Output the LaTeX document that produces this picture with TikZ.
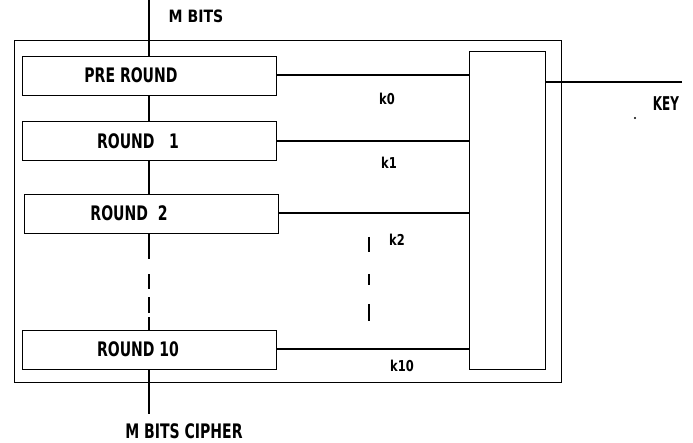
\documentclass[tikz,border=0pt]{standalone}
\usepackage{fontspec}
\setmainfont{DejaVu Sans Condensed}
\begin{document}
\begin{tikzpicture}[x=1pt,y=-1pt]
  \tikzset{
      every node/.append style = {
          font = \bfseries\addfontfeature{FakeStretch=0.78}\fontsize{20}{22}\selectfont,
          inner sep = 0pt
      },
      conn/.style = {
          line width = 2pt
      },
      roundbox/.style = {
          draw, line width = 0.9pt,
          minimum width = 254pt,
          minimum height = 39pt
      },
      keylabel/.style = {
          font = \bfseries\addfontfeature{FakeStretch=0.85}\fontsize{15}{17}\selectfont
      }
  }
  \useasboundingbox (0,0) rectangle (693,443);
  % frame
  \draw[line width = 0.9pt] (14,40) rectangle (561,382);
  % rounds
  \node[roundbox, label = {[xshift = -18pt]center:PRE ROUND}] (pre) at (149,75.5) {};
  \node[roundbox, label = {[xshift = -11pt]center:ROUND \ \ 1}] (r1) at (149,141) {};
  \node[roundbox, label = {[xshift = -22pt]center:ROUND \ 2}] (r2) at (151,213.5) {};
  \node[roundbox, label = {[xshift = -11pt]center:ROUND 10}] (r10) at (149,349.5) {};
  % key schedule
  \node[draw, line width = 0.9pt, minimum width = 76pt, minimum height = 318pt] (keygen) at (507,210) {};
  \coordinate (mbitsin) at (149,0);
  \coordinate (cipherout) at (149,414);
  \coordinate (keyin) at (682,82);
  \coordinate (dotstart) at (369,237);
  \coordinate (dotend) at (369,321);
  \node[font = \bfseries\addfontfeature{FakeStretch=0.92}\fontsize{17}{19}\selectfont] (mbits) at (196,16) {M BITS};
  \node (cipher) at (184,431) {M BITS CIPHER};
  \node[font = \bfseries\addfontfeature{FakeStretch=0.7}\fontsize{19}{21}\selectfont] (key) at (666,104) {KEY};
  \node[keylabel] (k0) at (387,99) {k0};
  \node[keylabel] (k1) at (389,163) {k1};
  \node[keylabel] (k2) at (397,240) {k2};
  \node[keylabel] (k10) at (402,366) {k10};
  \fill (635,118) circle (1.2pt);
  % data path
  \draw[conn] (mbitsin) -- (pre.north);
  \draw[conn] (pre.south) -- (r1.north);
  \draw[conn] (r1.south) -- (r1.south |- r2.north);
  \draw[conn, dash pattern = on 26pt off 15pt on 15pt off 8pt on 16pt off 4pt on 13pt] (r2.south -| r10.north) -- (r10.north);
  \draw[conn] (r10.south) -- (cipherout);
  % subkeys
  \draw[conn] (pre.east) -- (pre.east -| keygen.west);
  \draw[conn] (r1.east) -- (r1.east -| keygen.west);
  \draw[conn] (r2.east) -- (r2.east -| keygen.west);
  \draw[conn] (r10.east) -- (r10.east -| keygen.west);
  \draw[conn, dash pattern = on 15pt off 22pt on 11pt off 19pt on 17pt] (dotstart) -- (dotend);
  \draw[conn] (keyin) -- (keyin -| keygen.east);
\end{tikzpicture}
\end{document}
